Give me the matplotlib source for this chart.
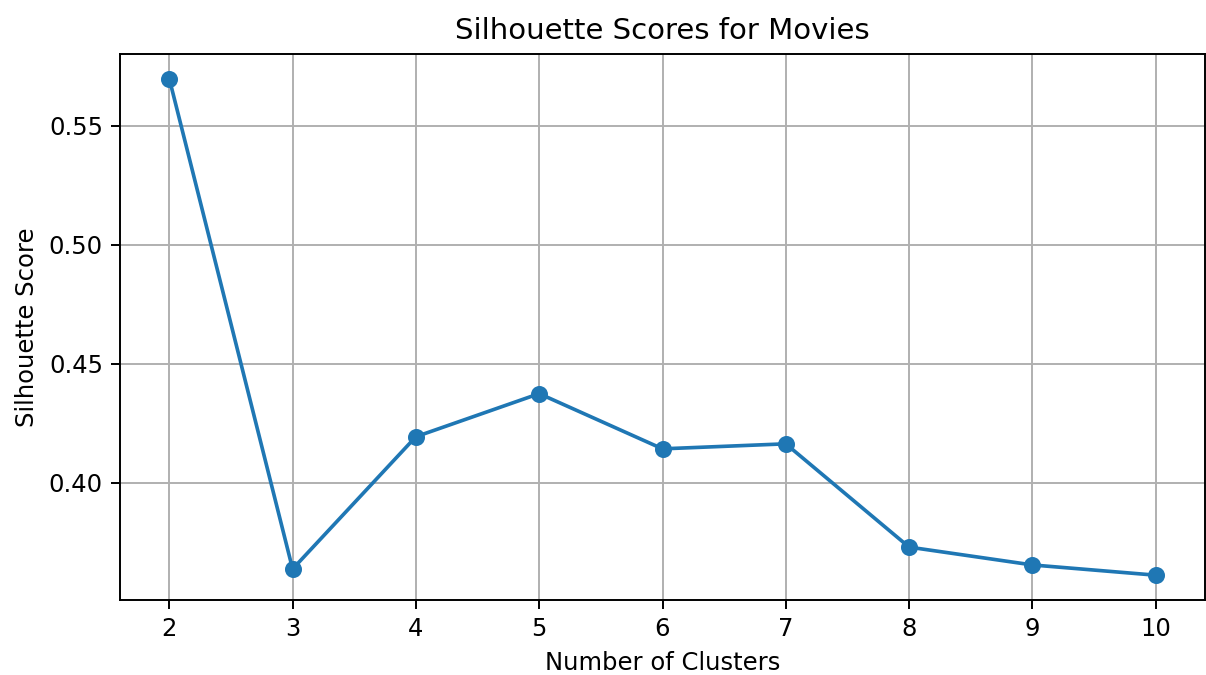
import matplotlib.pyplot as plt

n_clusters = [2, 3, 4, 5, 6, 7, 8, 9, 10]
silhouette_scores = [0.5698, 0.3638, 0.4194, 0.4375, 0.4143, 0.4164, 0.3730, 0.3655, 0.3612]

dpi = 175
fig = plt.figure(figsize=(1206 / dpi, 675 / dpi), dpi=dpi)
ax = fig.add_axes([120 / 1206, 75 / 675, 1085 / 1206, 546 / 675])
ax.plot(n_clusters, silhouette_scores, marker='o')
ax.set_title('Silhouette Scores for Movies')
ax.set_xlabel('Number of Clusters')
ax.set_ylabel('Silhouette Score')
ax.set_xticks(n_clusters)
ax.set_yticks([0.40, 0.45, 0.50, 0.55])
ax.grid(True)
fig.savefig('out.png', dpi=dpi)
